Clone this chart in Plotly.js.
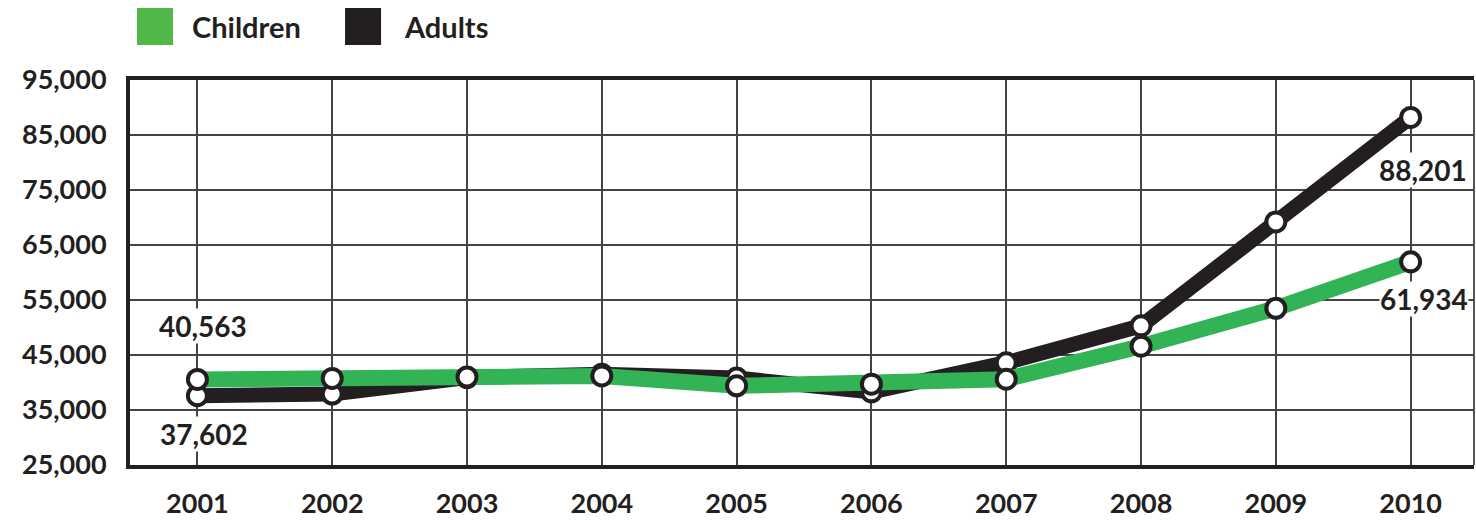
<!DOCTYPE html>
<html>
<head>
<meta charset="utf-8">
<script src="https://cdn.plot.ly/plotly-3.0.1.min.js"></script>
<style>
html,body{margin:0;padding:0;background:#fff;}
#chart{width:1476px;height:522px;}
</style>
</head>
<body>
<div id="chart"></div>
<script>
// ---- data ----
var years = [2001, 2002, 2003, 2004, 2005, 2006, 2007, 2008, 2009, 2010];
var children = [40563, 40750, 41000, 41200, 39400, 39700, 40600, 46600, 53500, 61934];
var adults = [37602, 37900, 40900, 41500, 40800, 38300, 43600, 50300, 69200, 88201];
var seriesNames = ["Children", "Adults"];
var yTicks = [25000, 35000, 45000, 55000, 65000, 75000, 85000, 95000];

var GREEN = "#31b356";
var LEGEND_GREEN = "#50b848";
var BLACK = "#231f20";
var FONT = "Lato, 'Open Sans', sans-serif";

function fmt(v){ return v.toLocaleString("en-US"); }

var markerStyle = {symbol: "circle", size: 19, color: "#ffffff", line: {color: BLACK, width: 4}};

var traces = [
  {x: years, y: adults, name: seriesNames[1], type: "scatter", mode: "lines+markers",
   line: {color: BLACK, width: 15}, marker: markerStyle, showlegend: false, hoverinfo: "skip"},
  {x: years, y: children, name: seriesNames[0], type: "scatter", mode: "lines+markers",
   line: {color: GREEN, width: 16}, marker: markerStyle, showlegend: false, hoverinfo: "skip"}
];

var last = years.length - 1;
var labelFont = {family: FONT, size: 28, color: BLACK, weight: "bold"};
var annotations = [
  {x: years[0], y: children[0], text: fmt(children[0]), showarrow: false, xshift: 6, yshift: 53, bgcolor: "#ffffff", borderpad: 0, font: labelFont},
  {x: years[0], y: adults[0], text: fmt(adults[0]), showarrow: false, xshift: 7, yshift: -38, bgcolor: "#ffffff", borderpad: 0, font: labelFont},
  {x: years[last], y: adults[last], text: fmt(adults[last]), showarrow: false, xshift: 12, yshift: -53, bgcolor: "#ffffff", borderpad: 0, font: labelFont},
  {x: years[last], y: children[last], text: fmt(children[last]), showarrow: false, xshift: 13, yshift: -37, bgcolor: "#ffffff", borderpad: 0, font: labelFont},
  // custom legend text
  {xref: "paper", yref: "paper", x: 0.0446, y: 1.140, xanchor: "left", yanchor: "middle", text: seriesNames[0], showarrow: false,
   font: {family: FONT, size: 29, color: BLACK, weight: "bold"}},
  {xref: "paper", yref: "paper", x: 0.2024, y: 1.140, xanchor: "left", yanchor: "middle", text: seriesNames[1], showarrow: false,
   font: {family: FONT, size: 29, color: BLACK, weight: "bold"}}
];

var shapes = [
  {type: "rect", xref: "paper", yref: "paper", x0: 0.0052, x1: 0.0320, y0: 1.091, y1: 1.187, fillcolor: LEGEND_GREEN, line: {width: 0}},
  {type: "rect", xref: "paper", yref: "paper", x0: 0.1600, x1: 0.1868, y0: 1.091, y1: 1.187, fillcolor: BLACK, line: {width: 0}},
  {type: "line", xref: "paper", yref: "paper", x0: 1, x1: 1, y0: 0, y1: 1, line: {color: "#555", width: 2}, layer: "below"}
];

var layout = {
  width: 1476, height: 522,
  margin: {l: 130, r: 2, t: 80, b: 57, pad: 0},
  paper_bgcolor: "#ffffff", plot_bgcolor: "#ffffff",
  showlegend: false,
  font: {family: FONT, color: BLACK},
  xaxis: {
    range: [2000.5, 2010.47], tickmode: "array", tickvals: years, ticktext: years.map(String),
    showgrid: true, gridcolor: "#444", gridwidth: 2, zeroline: false,
    showline: true, linecolor: BLACK, linewidth: 4, mirror: true,
    ticks: "", ticklabelstandoff: 12,
    tickfont: {family: FONT, size: 27, color: BLACK, weight: "bold"}, fixedrange: true
  },
  yaxis: {
    range: [25000, 95000], tickmode: "array", tickvals: yTicks, ticktext: yTicks.map(fmt),
    showgrid: true, gridcolor: "#444", gridwidth: 2, zeroline: false,
    showline: true, linecolor: BLACK, linewidth: 4,
    ticks: "", ticklabelstandoff: 14,
    tickfont: {family: FONT, size: 27, color: BLACK, weight: "bold"}, fixedrange: true
  },
  annotations: annotations,
  shapes: shapes
};

Plotly.newPlot("chart", traces, layout, {displayModeBar: false, staticPlot: true});
</script>
</body>
</html>
